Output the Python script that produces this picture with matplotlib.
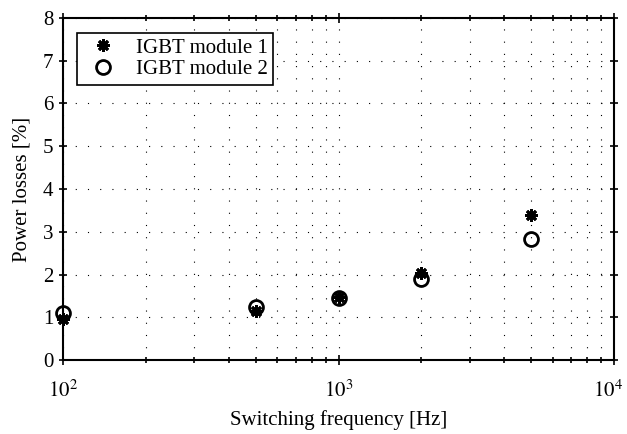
import matplotlib
matplotlib.use("Agg")
import matplotlib.pyplot as plt
import matplotlib.transforms as mtransforms
from matplotlib.ticker import LogLocator, NullFormatter, FixedLocator

plt.rcParams['font.family'] = ['Liberation Serif', 'DejaVu Serif']
plt.rcParams['mathtext.fontset'] = 'stix'

freq = [100, 500, 1000, 2000, 5000]
module1 = [0.95, 1.15, 1.47, 2.03, 3.40]
module2 = [1.09, 1.25, 1.45, 1.90, 2.84]
xticks = [100, 1000, 10000]
xtick_labels = [r'$10^{2}$', r'$10^{3}$', r'$10^{4}$']

fig = plt.figure(figsize=(6.27, 4.34), dpi=100)
L, R, T, B = 63, 614, 18, 360
ax = fig.add_axes([L/627, 1-B/434, (R-L)/627, (B-T)/434])

ax.plot(freq, module1, linestyle='none', marker=(8, 2, 0), markersize=9,
        color='black', markeredgewidth=2, label='IGBT module 1', clip_on=False, zorder=5)
ax.plot(freq, module2, linestyle='none', marker='o', markersize=10,
        markerfacecolor='none', markeredgecolor='black', markeredgewidth=2,
        label='IGBT module 2', clip_on=False, zorder=5)

ax.set_xscale('log')
ax.set_xlim(100, 10000)
ax.set_ylim(0, 8)
ax.set_yticks(range(0, 9))
ax.set_xticks(xticks)
ax.set_xticklabels(xtick_labels)
ax.xaxis.set_minor_locator(LogLocator(base=10, subs=range(2, 10)))
ax.xaxis.set_minor_formatter(NullFormatter())

ax.grid(True, which='major', axis='both', linestyle=(0, (1, 10)), color='black', linewidth=0.8)
ax.grid(True, which='minor', axis='x', linestyle=(0, (1, 10)), color='black', linewidth=0.8)

ax.tick_params(which='both', direction='inout', top=True, right=True, width=1.2)
ax.tick_params(axis='x', which='major', length=7, pad=11, labelsize=15)
ax.tick_params(axis='x', which='minor', length=4)
ax.tick_params(axis='y', which='major', length=6, pad=4, labelsize=15)
for s in ax.spines.values():
    s.set_linewidth(1.5)

ax.set_xlabel('Switching frequency [Hz]', fontsize=15, labelpad=6)
ax.set_ylabel('Power losses [%]', fontsize=15, labelpad=8)

leg = ax.legend(loc='upper left', fontsize=15, frameon=True, fancybox=False,
                edgecolor='black', framealpha=1, borderpad=0.25, handletextpad=0.6,
                labelspacing=0.1, borderaxespad=0, bbox_to_anchor=(14/551, 1-15/342))
leg.get_frame().set_linewidth(1.2)

last = ax.xaxis.get_major_ticks()[-1].label1
last.set_transform(last.get_transform() +
                   mtransforms.ScaledTranslation(-4/72, 0, fig.dpi_scale_trans))

fig.savefig('out.png', dpi=100)
